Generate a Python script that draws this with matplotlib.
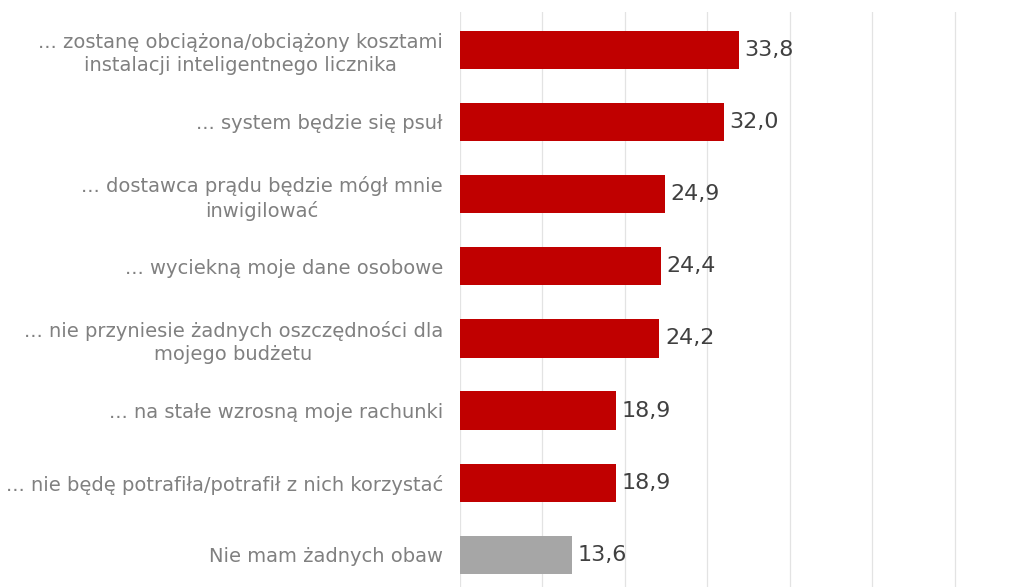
import matplotlib
matplotlib.use("Agg")
import matplotlib.pyplot as plt

# survey answers, top to bottom
categories = [
    "... zostanę obciążona/obciążony kosztami\ninstalacji inteligentnego licznika",
    "... system będzie się psuł",
    "... dostawca prądu będzie mógł mnie\ninwigilować",
    "... wyciekną moje dane osobowe",
    "... nie przyniesie żadnych oszczędności dla\nmojego budżetu",
    "... na stałe wzrosną moje rachunki",
    "... nie będę potrafiła/potrafił z nich korzystać",
    "Nie mam żadnych obaw",
]
values = [33.8, 32.0, 24.9, 24.4, 24.2, 18.9, 18.9, 13.6]
value_labels = ["33,8", "32,0", "24,9", "24,4", "24,2", "18,9", "18,9", "13,6"]

RED = "#C00000"
GREY = "#A6A6A6"
colors = [RED] * 7 + [GREY]

plt.rcParams["font.family"] = ["DejaVu Sans"]

fig = plt.figure(figsize=(10.26, 5.87), dpi=100)
ax = fig.add_axes([0.448, 0.0, 0.4866, 0.98])

pos = list(range(len(values)))
ax.barh(pos, values, height=0.53, color=colors, zorder=3)

ax.set_xlim(0, 60.5)
ax.set_ylim(7.444, -0.527)
ax.set_xticks(range(0, 61, 10))
ax.set_xticklabels([])
ax.tick_params(axis="both", length=0)
ax.grid(axis="x", color="#E3E3E3", linewidth=0.9, zorder=0)
for s in ax.spines.values():
    s.set_visible(False)

ax.set_yticks(pos)
ax.set_yticklabels(categories, fontsize=14, color="#808080",
                   multialignment="center", linespacing=1.3)
ax.tick_params(axis="y", pad=12)

for p, v, lab in zip(pos, values, value_labels):
    ax.annotate(lab, (v, p), xytext=(4, 0), textcoords="offset points",
                va="center", ha="left", fontsize=16, color="#404040")

fig.savefig("out.png", dpi=100)
